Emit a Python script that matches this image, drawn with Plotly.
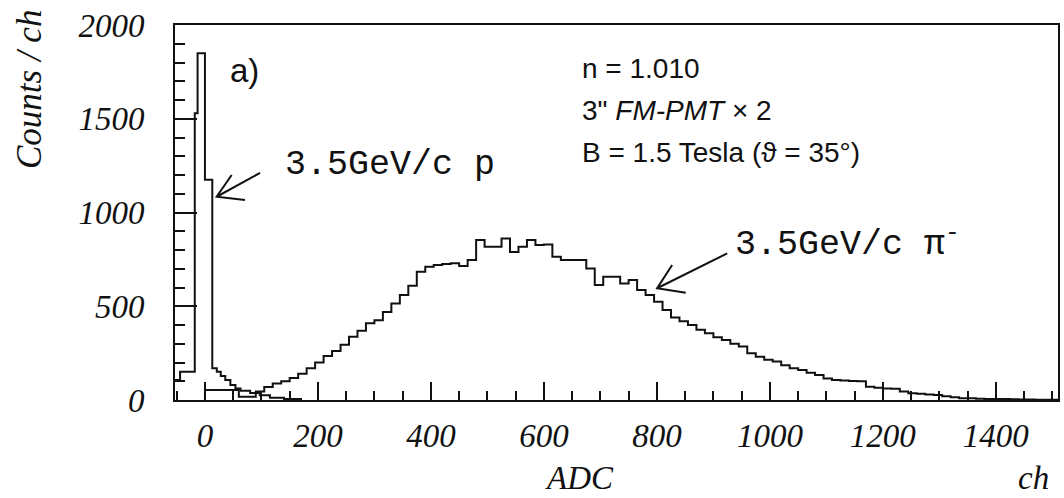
import numpy as np
import plotly.graph_objects as go

# ---------------- data ----------------
# proton histogram (3.5 GeV/c p): bin edges (ADC ch) and counts
proton_edges = [-60, -44, -18, -13, 0, 13, 21, 28, 36, 45, 54, 63, 80, 97, 115, 140, 170]
proton_counts = [107, 151, 1530, 1850, 1175, 169, 151, 128, 107, 80, 62, 50, 38, 25, 12, 5]

# pion histogram (3.5 GeV/c pi-): 15-ch bins starting at 0
pion_bin_width = 15
pion_start = 0
pion_counts = [
    53, 53, 53, 53, 18, 18, 45, 70, 88, 100,
    117, 140, 170, 200, 235, 262, 295, 338, 370, 410,
    425, 470, 515, 560, 610, 684, 711, 720, 725, 730,
    715, 747, 853, 818, 818, 862, 790, 818, 853, 827,
    830, 764, 747, 747, 747, 702, 613, 658, 658, 622,
    640, 587, 560, 524, 480, 440, 420, 400, 375, 356,
    335, 320, 300, 285, 250, 231, 215, 205, 185, 169,
    160, 145, 133, 115, 107, 104, 102, 100, 71, 66,
    62, 60, 45, 36, 34, 30, 27, 20, 15, 10,
    9, 7, 6, 5, 5, 4, 3, 3, 2, 2,
    2,
]

x_tickvals = [0, 200, 400, 600, 800, 1000, 1200, 1400]
y_tickvals = [0, 500, 1000, 1500, 2000]

info_lines = ["n = 1.010", "3\" <i>FM-PMT</i> × 2", "B = 1.5 Tesla (ϑ = 35°)"]
label_p = "3.5GeV/c p"
label_pi = "3.5GeV/c π<sup>-</sup>"


def step_outline(edges, counts):
    xs = [edges[0]] + list(edges[:-1]) + [edges[-1]]
    ys = [0] + list(counts) + [0]
    return xs, ys


pion_edges = list(pion_start + np.arange(len(pion_counts) + 1) * pion_bin_width)

fig = go.Figure()
for edges, counts in [(proton_edges, proton_counts), (pion_edges, pion_counts)]:
    xs, ys = step_outline(edges, counts)
    fig.add_trace(go.Scatter(x=xs, y=ys, mode="lines", line_shape="hv",
                             line=dict(color="#111111", width=2), showlegend=False,
                             hoverinfo="skip"))

serif_it = dict(family="Liberation Serif, Times New Roman, serif", size=33,
                color="#111111", style="italic")
sans = dict(family="Liberation Sans, Arial, sans-serif", size=28, color="#111111")
mono = dict(family="Liberation Mono, DejaVu Sans Mono, monospace", size=35, color="#111111")

fig.update_xaxes(range=[-53, 1510], showline=True, mirror=True, linewidth=2,
                 linecolor="#111111", showgrid=False, zeroline=False,
                 tickmode="array", tickvals=x_tickvals, ticks="inside", ticklen=18,
                 tickwidth=2, tickcolor="#111111", tickfont=serif_it,
                 ticklabelstandoff=5,
                 minor=dict(dtick=50, tick0=0, ticks="inside", ticklen=9, tickwidth=2,
                            tickcolor="#111111", showgrid=False))
fig.update_yaxes(range=[0, 2000], showline=True, mirror=True, linewidth=2,
                 linecolor="#111111", showgrid=False, zeroline=False,
                 tickmode="array", tickvals=y_tickvals, ticks="inside", ticklen=22,
                 tickwidth=2, tickcolor="#111111", tickfont=serif_it,
                 ticklabelstandoff=22,
                 minor=dict(dtick=100, tick0=0, ticks="inside", ticklen=10, tickwidth=2,
                            tickcolor="#111111", showgrid=False))

ann = []
# axis titles
ann.append(dict(text="ADC", x=0.4576, y=-0.208, xref="paper", yref="paper",
                showarrow=False, font=serif_it, xanchor="center", yanchor="middle"))
ann.append(dict(text="ch", x=0.972, y=-0.208, xref="paper", yref="paper",
                showarrow=False, font=serif_it, xanchor="center", yanchor="middle"))
ann.append(dict(text="Counts / ch", x=-0.164, y=0.827, xref="paper", yref="paper",
                showarrow=False, font=dict(serif_it, size=35), textangle=-90,
                xanchor="center", yanchor="middle"))
# panel label
ann.append(dict(text="a)", x=0.079, y=0.88, xref="paper", yref="paper",
                showarrow=False, font=dict(sans, size=33), xanchor="center", yanchor="middle"))
# info text
for txt, yp in zip(info_lines, [0.885, 0.771, 0.661]):
    ann.append(dict(text=txt, x=0.4585, y=yp, xref="paper", yref="paper",
                    showarrow=False, font=sans, xanchor="left", yanchor="middle"))
# particle labels
ann.append(dict(text=label_p, x=0.243, y=0.627, xref="paper", yref="paper",
                showarrow=False, font=mono, xanchor="center", yanchor="middle"))
ann.append(dict(text=label_pi, x=0.7616, y=0.421, xref="paper", yref="paper",
                showarrow=False, font=mono, xanchor="center", yanchor="middle"))
fig.update_layout(annotations=ann)

# open arrows pointing at the histograms (data coords)
arrows = [
    # tail, tip, arm1, arm2
    ((97.5, 1211), (20.7, 1084), (47.3, 1200), (70.9, 1067)),
    ((924.5, 782), (800.4, 596), (827, 720), (851, 572)),
]
for tail, tip, a1, a2 in arrows:
    path = (f"M {tail[0]},{tail[1]} L {tip[0]},{tip[1]} "
            f"M {a1[0]},{a1[1]} L {tip[0]},{tip[1]} L {a2[0]},{a2[1]}")
    fig.add_shape(type="path", path=path, xref="x", yref="y",
                  line=dict(color="#111111", width=2))

fig.update_layout(width=1064, height=498, margin=dict(l=175, r=4, t=25, b=98),
                  paper_bgcolor="white", plot_bgcolor="white")

fig.write_html("out.html")
